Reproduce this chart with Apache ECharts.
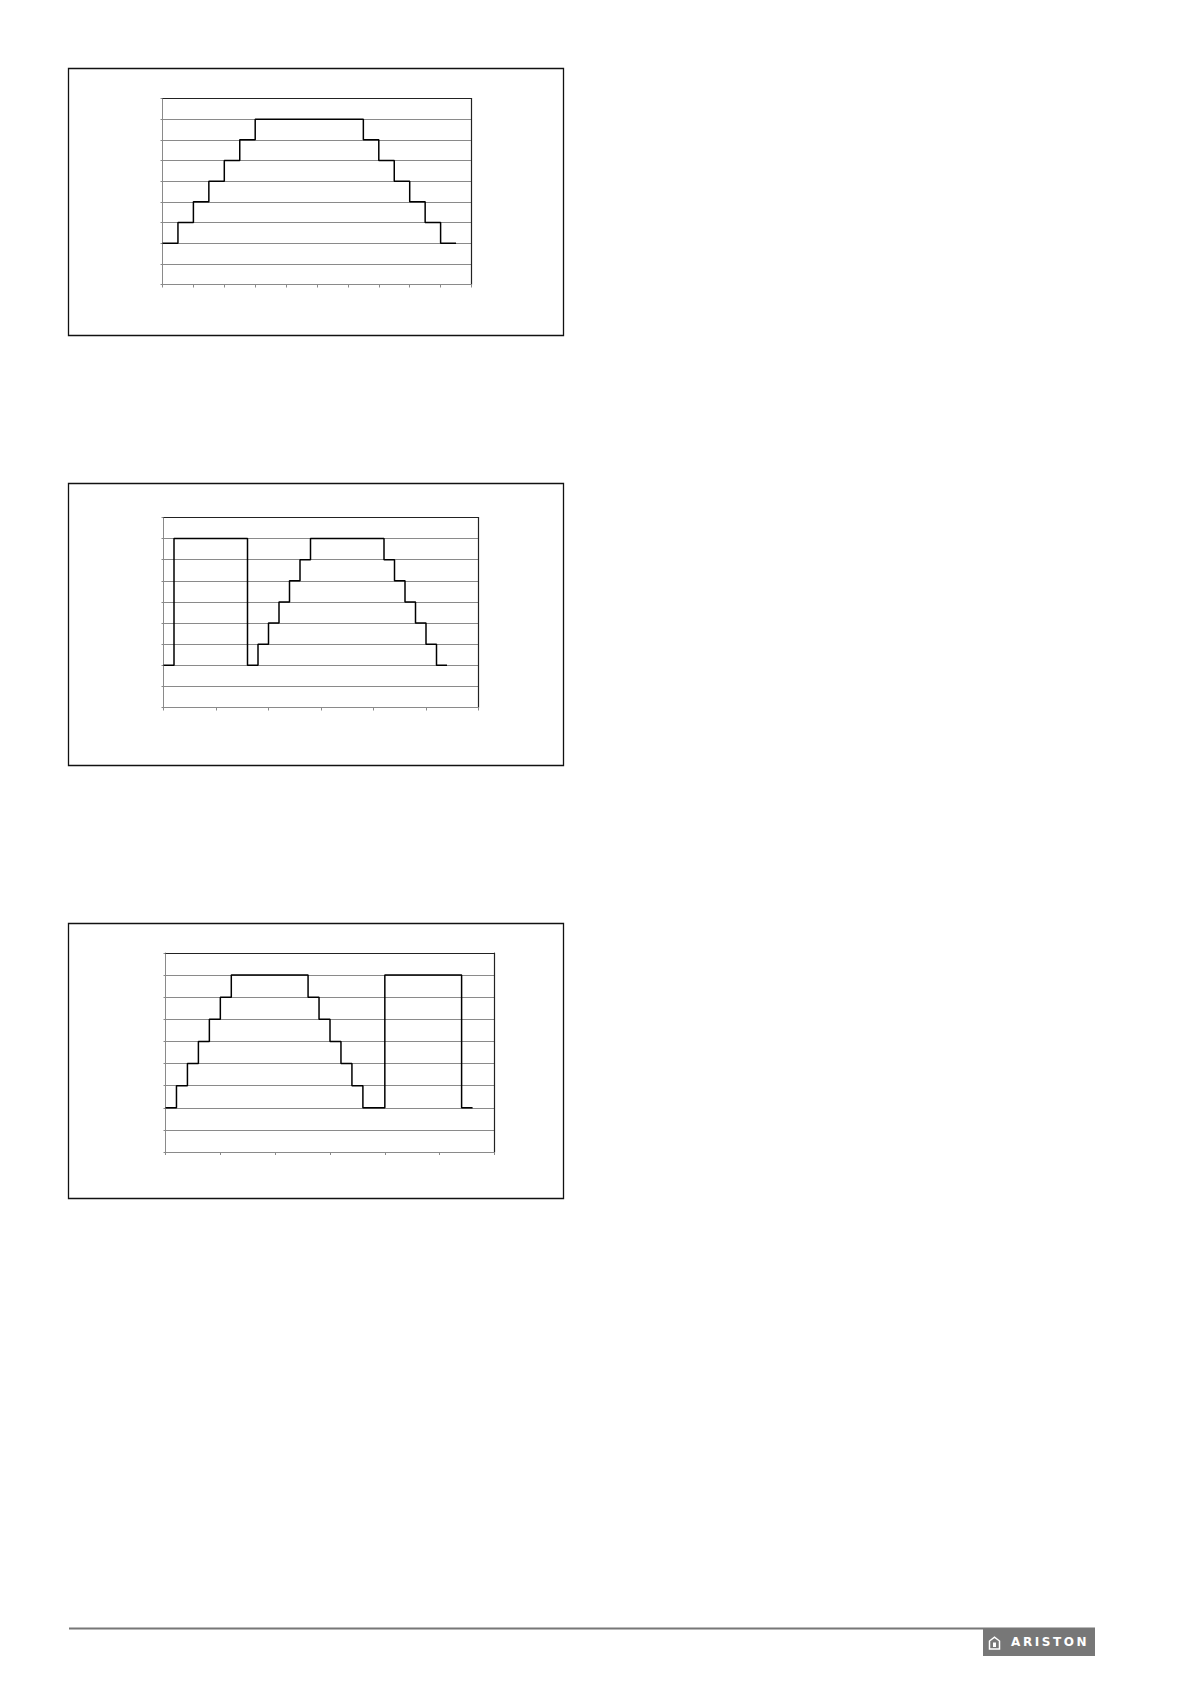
<!DOCTYPE html>
<html>
<head>
<meta charset="utf-8">
<script src="https://cdn.jsdelivr.net/npm/echarts@6/dist/echarts.min.js"></script>
<style>
  html, body { margin: 0; padding: 0; background: #fff; }
  #main { width: 1191px; height: 1684px; position: absolute; left: 0; top: 0; }
  #logo { position: absolute; left: 983px; top: 1628px; width: 112px; height: 28px; background: #777; }
  #logo svg { position: absolute; left: 5px; top: 8px; }
  #logo span { position: absolute; left: 28px; top: 7px; color: #fff; font-family: "DejaVu Sans", sans-serif; font-weight: bold; font-size: 12px; letter-spacing: 2.6px; line-height: 14px; }
</style>
</head>
<body>
<div id="main"></div>
<div id="logo">
  <svg width="13" height="14" viewBox="0 0 13 14"><path d="M1.5 13 L1.5 5 L6.5 1.2 L11.5 5 L11.5 13 Z" fill="none" stroke="#fff" stroke-width="1.5"/><rect x="5" y="6.5" width="3" height="4.5" fill="#fff"/></svg>
  <span>ARISTON</span>
</div>
<script>
// Chart 1: step profile (x in half-tick units, y in grid levels)
const chart1X = [0, 1, 2, 3, 4, 5, 6, 13, 14, 15, 16, 17, 18, 19];
const chart1Y = [2, 3, 4, 5, 6, 7, 8, 7, 6, 5, 4, 3, 2, 2];
// Chart 2: pulse then step profile
const chart2X = [0, 1, 8, 9, 10, 11, 12, 13, 14, 21, 22, 23, 24, 25, 26, 27];
const chart2Y = [2, 8, 2, 3, 4, 5, 6, 7, 8, 7, 6, 5, 4, 3, 2, 2];
// Chart 3: step profile then pulse
const chart3X = [0, 1, 2, 3, 4, 5, 6, 13, 14, 15, 16, 17, 18, 20, 27, 28];
const chart3Y = [2, 3, 4, 5, 6, 7, 8, 7, 6, 5, 4, 3, 2, 8, 2, 2];
// Axis ranges
const xMaxes = [20, 30, 30];
const xIntervals = [2, 5, 5];
const yMax = 9;
const yInterval = 1;

const grids = [
  { left: 162.5, top: 98.5, width: 309, height: 186 },
  { left: 163.5, top: 517.5, width: 315, height: 190 },
  { left: 165.5, top: 953, width: 329, height: 199 }
];
const boxes = [
  { x: 68.5, y: 68.5, w: 495, h: 267 },
  { x: 68.5, y: 483.5, w: 495, h: 282 },
  { x: 68.5, y: 923.5, w: 495, h: 275 }
];
const seriesX = [chart1X, chart2X, chart3X];
const seriesY = [chart1Y, chart2Y, chart3Y];

const gray = '#8a8a8a';
const dark = '#222';

const xAxes = [], yAxes = [], series = [];
grids.forEach((g, i) => {
  xAxes.push({
    type: 'value', gridIndex: i, min: 0, max: xMaxes[i], interval: xIntervals[i],
    position: 'bottom',
    axisLine: { show: true, onZero: false, lineStyle: { color: gray, width: 1 } },
    axisTick: { show: true, length: 3, lineStyle: { color: gray } },
    axisLabel: { show: false }, splitLine: { show: false }
  });
  xAxes.push({
    type: 'value', gridIndex: i, min: 0, max: xMaxes[i], interval: xIntervals[i],
    position: 'top',
    axisLine: { show: true, onZero: false, lineStyle: { color: dark, width: 1.2 } },
    axisTick: { show: false }, axisLabel: { show: false }, splitLine: { show: false }
  });
  yAxes.push({
    type: 'value', gridIndex: i, min: 0, max: yMax, interval: yInterval,
    position: 'left',
    axisLine: { show: true, onZero: false, lineStyle: { color: gray, width: 1 } },
    axisTick: { show: true, length: 2, lineStyle: { color: gray } },
    axisLabel: { show: false },
    splitLine: { show: true, lineStyle: { color: gray, width: 1 } }
  });
  yAxes.push({
    type: 'value', gridIndex: i, min: 0, max: yMax, interval: yInterval,
    position: 'right',
    axisLine: { show: true, onZero: false, lineStyle: { color: dark, width: 1.2 } },
    axisTick: { show: false }, axisLabel: { show: false }, splitLine: { show: false }
  });
  series.push({
    type: 'line', xAxisIndex: i * 2, yAxisIndex: i * 2, step: 'end',
    showSymbol: false, symbol: 'none', animation: false,
    lineStyle: { color: '#000', width: 1.5 },
    data: seriesX[i].map((x, k) => [x, seriesY[i][k]])
  });
});

const graphic = boxes.map(b => ({
  type: 'rect', shape: { x: b.x, y: b.y, width: b.w, height: b.h },
  style: { fill: 'none', stroke: '#111', lineWidth: 1.3 }, silent: true, z: -1
}));
graphic.push({
  type: 'line', shape: { x1: 69, y1: 1628.5, x2: 1095, y2: 1628.5 },
  style: { stroke: '#777', lineWidth: 2 }, silent: true
});

const chart = echarts.init(document.getElementById('main'), null, { renderer: 'canvas' });
chart.setOption({
  animation: false,
  backgroundColor: '#fff',
  grid: grids.map(g => Object.assign({ containLabel: false }, g)),
  xAxis: xAxes,
  yAxis: yAxes,
  series: series,
  graphic: graphic
});
</script>
</body>
</html>
